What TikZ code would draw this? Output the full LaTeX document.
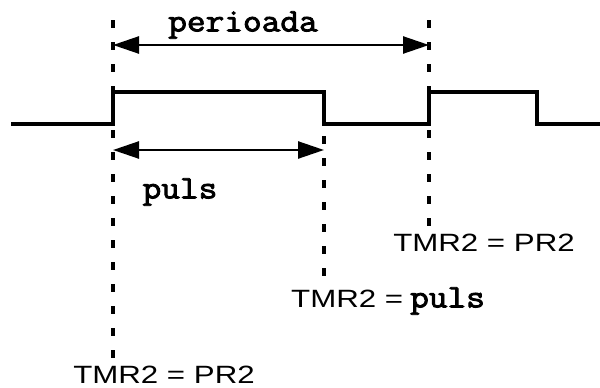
\documentclass[tikz,border=0pt]{standalone}
\usepackage{fontspec}
\setsansfont{Liberation Sans}
\newfontfamily\codefont{Latin Modern Mono}[FakeBold=2.5]
\usetikzlibrary{arrows.meta, positioning}
\newcommand{\wide}[1]{\scalebox{1.25}[1]{#1}}
\newcommand{\code}[1]{\scalebox{1.1}[1]{\codefont\fontsize{33}{36}\selectfont #1}}

\begin{document}
\begin{tikzpicture}[x=1pt, y=-1pt,
    signal/.style={line width=3.5pt},
    marker/.style={line width=3.5pt, dash pattern=on 8pt off 14pt},
    span/.style={line width=2.5pt, {Triangle[length=26pt,width=17pt]}-{Triangle[length=26pt,width=17pt]}},
    eqlabel/.style={font=\sffamily\fontsize{25}{28}\selectfont, inner sep=1pt},
    codelabel/.style={inner sep=1pt}]
    \useasboundingbox (0,0) rectangle (600,388);

    % Waveform corners
    \coordinate (s0) at (11,124);
    \coordinate (r1) at (113,124);
    \coordinate (r1h) at (113,92);
    \coordinate (f1h) at (324,92);
    \coordinate (f1) at (324,124);
    \coordinate (r2) at (429,124);
    \coordinate (r2h) at (429,92);
    \coordinate (f2h) at (537,92);
    \coordinate (f2) at (537,124);
    \coordinate (s1) at (600,124);
    \draw[signal] (s0) -- (r1) -- (r1h) -- (f1h) -- (f1) -- (r2) -- (r2h) -- (f2h) -- (f2) -- (s1);

    % Labels
    \node[codelabel] (period) at (243,25) {\code{perioada}};
    \node[codelabel] (pulse) at (180,192) {\code{puls}};
    \node[eqlabel] (tmrC) at (484,243) {\wide{TMR2 = PR2}};
    \node[eqlabel, anchor=west] (tmrB) at (290,301) {\wide{TMR2 =} \code{puls}};
    \node[eqlabel] (tmrA) at (164,375) {\wide{TMR2 = PR2}};

    % Marker lines
    \coordinate (topA) at (113,20);
    \coordinate (topC) at (429,20);
    \draw[marker] (topA) -- (topA |- tmrA.north);
    \draw[marker] (topC) -- (topC |- tmrC.north);
    \draw[marker] (f1h) -- (f1h |- tmrB.north);

    % Spans
    \coordinate (pL) at (113,45);
    \coordinate (pR) at (429,45);
    \draw[span] (pL) -- (pR);
    \coordinate (wL) at (113,150);
    \coordinate (wR) at (324,150);
    \draw[span] (wL) -- (wR);
\end{tikzpicture}
\end{document}
